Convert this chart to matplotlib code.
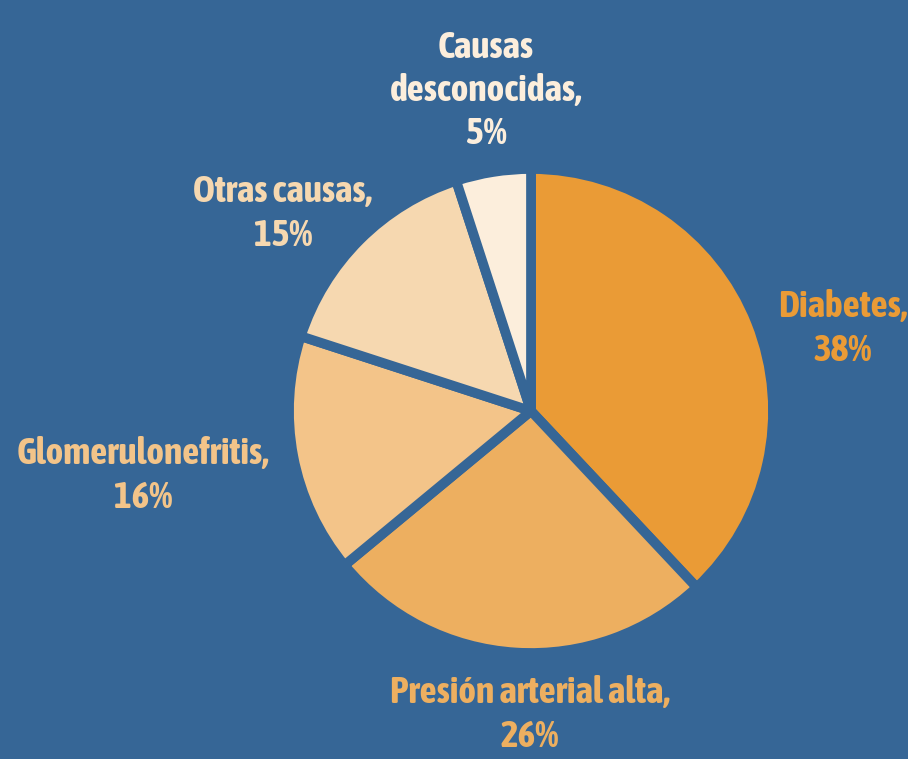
import matplotlib
matplotlib.use("Agg")
from matplotlib import pyplot as plt

# Causas de insuficiencia renal
labels = ["Diabetes", "Presión arterial alta", "Glomerulonefritis", "Otras causas", "Causas desconocidas"]
values = [38, 26, 16, 15, 5]
colors = ["#EA9B36", "#EDAF60", "#F3C489", "#F6D8B0", "#FCEEDC"]
label_text = ["Diabetes,\n38%", "Presión arterial alta,\n26%", "Glomerulonefritis,\n16%",
              "Otras causas,\n15%", "Causas\ndesconocidas,\n5%"]

bg = "#366696"
W, H = 908, 759

fig = plt.figure(figsize=(W / 100, H / 100), dpi=100, facecolor=bg)
ax = fig.add_axes([0, 0, 1, 1])
ax.set_facecolor(bg)

ax.pie(values, colors=colors, startangle=90, counterclock=False,
       center=(531, H - 411), radius=242,
       wedgeprops={"edgecolor": bg, "linewidth": 7, "joinstyle": "round"})
ax.set_xlim(0, W)
ax.set_ylim(0, H)
ax.set_aspect("equal")
ax.axis("off")

# label positions in pixels (x, top-down y of text center)
pos = [(843, 329), (530, 715), (143, 476), (283, 214), (486, 91)]
for txt, col, (x, y) in zip(label_text, colors, pos):
    ax.text(x, H - y, txt, color=col, ha="center", va="center",
            fontsize=27, fontweight="bold", linespacing=1.26,
            family=["Asap Condensed", "DejaVu Sans"])

fig.savefig("out.png", dpi=100, facecolor=bg)
